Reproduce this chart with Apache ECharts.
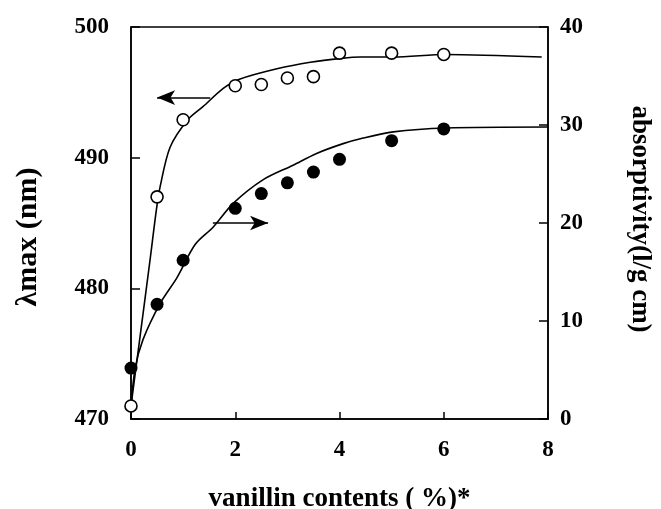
<!DOCTYPE html>
<html>
<head>
<meta charset="utf-8">
<script src="https://cdn.jsdelivr.net/npm/echarts@6/dist/echarts.min.js"></script>
<style>
html,body{margin:0;padding:0;background:#fff;}
#chart{width:661px;height:509px;}
</style>
</head>
<body>
<div id="chart"></div>
<script>
// measured data
var vanillin = [0, 0.5, 1, 2, 2.5, 3, 3.5, 4, 5, 6];
var lambdaMax = [471.0, 487.0, 492.9, 495.5, 495.6, 496.1, 496.2, 498.0, 498.0, 497.9];
var absorptivity = [5.2, 11.7, 16.2, 21.5, 23.0, 24.1, 25.2, 26.5, 28.4, 29.6];

// fitted curves
var lambdaFitX = [0, 0.18, 0.36, 0.49, 0.56, 0.75, 1.09, 1.38, 1.77, 2.08, 2.8, 3.44, 4.04, 4.4, 5.03, 6.04, 7.88];
var lambdaFitY = [471.0, 476.5, 482.0, 486.1, 487.8, 490.8, 492.9, 493.9, 495.3, 496.0, 496.8, 497.3, 497.6, 497.7, 497.7, 497.9, 497.7];
var absFitX = [0, 0.08, 0.23, 0.56, 0.88, 1.23, 1.58, 1.96, 2.53, 3.11, 3.56, 4.07, 4.4, 5.03, 6.04, 8.0];
var absFitY = [1.3, 5.2, 8.1, 11.8, 14.4, 17.8, 19.6, 22.0, 24.4, 25.9, 27.1, 28.1, 28.6, 29.3, 29.7, 29.8];

// arrows (data coordinates)
var arrowLeft = {from: [1.52, 494.6], to: [0.5, 494.6]};
var arrowRight = {from: [1.57, 20.0], to: [2.63, 20.0]};

function zip(a, b) { return a.map(function (v, i) { return [v, b[i]]; }); }

var FONT = '"Liberation Serif", "Times New Roman", serif';
var chart = echarts.init(document.getElementById('chart'), null, {renderer: 'canvas'});
var tickLabel = {color: '#000', fontFamily: FONT, fontWeight: 'bold', fontSize: 23};
function nameStyle(size, extra) {
  return Object.assign({color: '#000', fontFamily: FONT, fontWeight: 'bold', fontSize: size}, extra || {});
}

var arrowLine = {
  silent: true,
  symbol: ['none', 'arrow'],
  symbolSize: [11, 18],
  label: {show: false},
  lineStyle: {color: '#000', width: 1.5, type: 'solid'},
  itemStyle: {color: '#000'},
  emphasis: {disabled: true}
};

chart.setOption({
  animation: false,
  backgroundColor: '#fff',
  grid: {left: 131, right: 113, top: 27, bottom: 90, containLabel: false, outerBoundsMode: 'none',
    show: true, borderColor: '#000', borderWidth: 1.5, backgroundColor: 'transparent'},
  xAxis: {
    type: 'value', min: 0, max: 8, interval: 2,
    name: 'vanillin contents ( %)*', nameLocation: 'middle', nameGap: 67, nameTextStyle: nameStyle(27),
    axisLine: {show: true, lineStyle: {color: '#000', width: 1.5}},
    axisTick: {show: true, inside: true, length: 7, lineStyle: {color: '#000', width: 1.5}},
    axisLabel: Object.assign({margin: 20}, tickLabel),
    splitLine: {show: false}
  },
  yAxis: [{
    type: 'value', min: 470, max: 500, interval: 10, position: 'left',
    name: 'λmax (nm)', nameLocation: 'middle', nameRotate: 90, nameGap: 88,
    nameTextStyle: nameStyle(30, {padding: [0, 28, 0, 0]}),
    axisLine: {show: true, lineStyle: {color: '#000', width: 1.5}},
    axisTick: {show: true, inside: true, length: 9, lineStyle: {color: '#000', width: 1.5}},
    axisLabel: Object.assign({margin: 22}, tickLabel),
    splitLine: {show: false}
  }, {
    type: 'value', min: 0, max: 40, interval: 10, position: 'right',
    name: 'absorptivity(l/g cm)', nameLocation: 'middle', nameRotate: -90, nameGap: 78,
    nameTextStyle: nameStyle(27, {padding: [0, 8, 0, 0]}),
    axisLine: {show: true, lineStyle: {color: '#000', width: 1.5}},
    axisTick: {show: true, inside: true, length: 9, lineStyle: {color: '#000', width: 1.5}},
    axisLabel: Object.assign({margin: 12}, tickLabel),
    splitLine: {show: false}
  }],
  series: [{
    type: 'line', yAxisIndex: 0, data: zip(lambdaFitX, lambdaFitY), smooth: 0.3,
    showSymbol: false, symbol: 'none', lineStyle: {color: '#000', width: 1.6}, silent: true,
    markLine: Object.assign({data: [[{coord: arrowLeft.from}, {coord: arrowLeft.to}]]}, arrowLine)
  }, {
    type: 'line', yAxisIndex: 1, data: zip(absFitX, absFitY), smooth: 0.3,
    showSymbol: false, symbol: 'none', lineStyle: {color: '#000', width: 1.6}, silent: true,
    markLine: Object.assign({data: [[{coord: arrowRight.from}, {coord: arrowRight.to}]]}, arrowLine)
  }, {
    type: 'scatter', yAxisIndex: 0, data: zip(vanillin, lambdaMax), symbol: 'circle', symbolSize: 12,
    itemStyle: {color: '#fff', borderColor: '#000', borderWidth: 1.6, opacity: 1}, z: 5
  }, {
    type: 'scatter', yAxisIndex: 1, data: zip(vanillin, absorptivity), symbol: 'circle', symbolSize: 13,
    itemStyle: {color: '#000', opacity: 1}, z: 5
  }]
});
</script>
</body>
</html>
